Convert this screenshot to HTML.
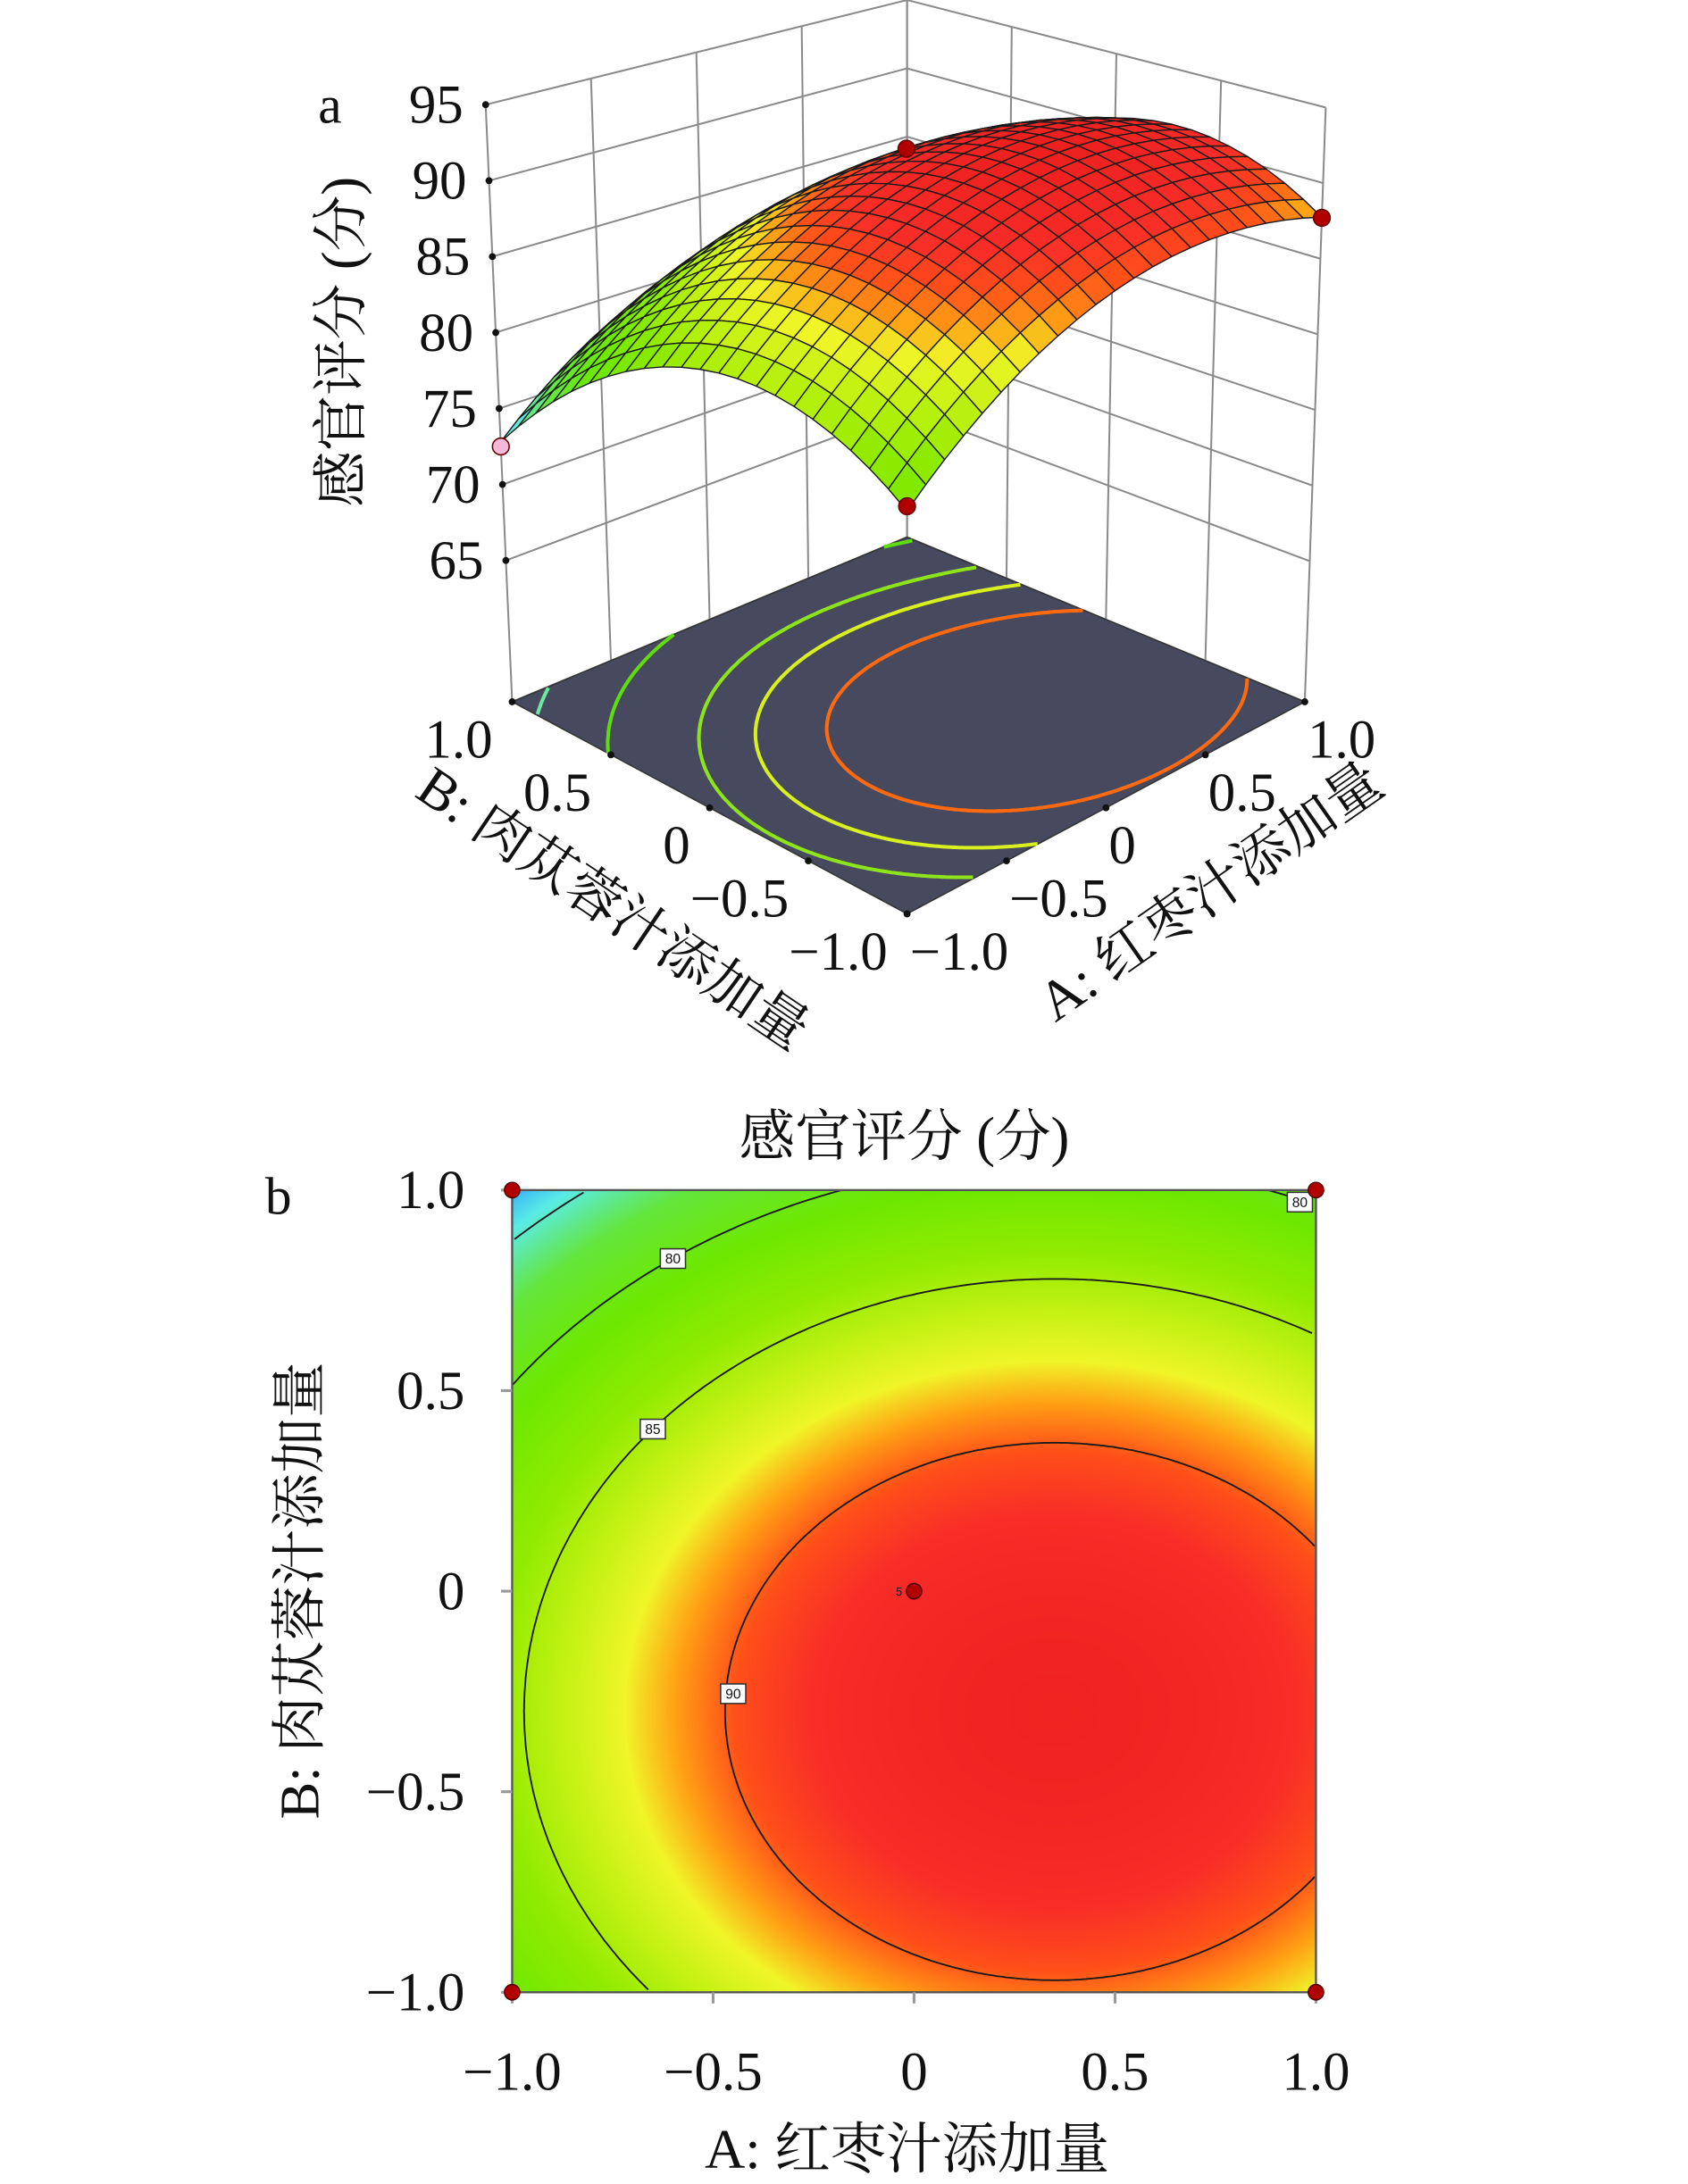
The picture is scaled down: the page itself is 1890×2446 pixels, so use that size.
<!DOCTYPE html>
<html><head><meta charset="utf-8">
<style>
html,body{margin:0;padding:0;background:#fff;}
#wrap{position:relative;width:1890px;height:2446px;overflow:hidden;}
#heat{position:absolute;left:573.4px;top:1332.8px;width:900px;height:898.4px;}
#svg{position:absolute;left:0;top:0;}
text{font-family:"Liberation Serif","Noto Serif CJK SC","Noto Sans CJK SC",serif;fill:#111;}
</style></head>
<body>
<div id="wrap">
<canvas id="heat" width="900" height="898"></canvas>
<svg id="svg" width="1890" height="2446" viewBox="0 0 1209.6 1565.4" xmlns="http://www.w3.org/2000/svg">
<g id="g3d"></g>
<g id="g2d"></g>
<text x="228" y="88" font-size="38">a</text>
<text x="190" y="870" font-size="38">b</text>
<text transform="translate(258,245) rotate(-90)" text-anchor="middle" font-size="40">感官评分 (分)</text>
<text transform="translate(432,662) rotate(34)" text-anchor="middle" font-size="40">B: 肉苁蓉汁添加量</text>
<text transform="translate(875,650) rotate(-35)" text-anchor="middle" font-size="40">A: 红枣汁添加量</text>
<text x="648" y="828" text-anchor="middle" font-size="40">感官评分 (分)</text>
<text x="650" y="1554" text-anchor="middle" font-size="40">A: 红枣汁添加量</text>
<text transform="translate(228,1140) rotate(-90)" text-anchor="middle" font-size="40">B: 肉苁蓉汁添加量</text>
</svg>
</div>
<script>
// ---- data ----
const modelTerms = [91.94, 3.27, -4.20, -4.67, -7.0, 0]; // b0, A, B, AA, BB, AB
const factorTicks = [-1, -0.5, 0, 0.5, 1];
const factorTickLabels = ["\u22121.0", "\u22120.5", "0", "0.5", "1.0"];
const zTicks = [65, 70, 75, 80, 85, 90, 95];
const floorContourLevels = [75, 80, 85, 87.5, 90];
const floorContourColors = ["#6ee8a0", "#5fdc10", "#8ee41a", "#d8f020", "#ff6a10"];
const contourLevels2d = [75, 80, 85, 90];
const designA = [-1, 1, -1, 1, 0];
const designB = [-1, -1, 1, 1, 0];
const designY = [81.5, 87.7, 72.5, 79.3, 93.5];

const NS = "http://www.w3.org/2000/svg";
function mk(tag, attrs, parent){const e=document.createElementNS(NS,tag);for(const k in attrs)e.setAttribute(k,attrs[k]);parent.appendChild(e);return e;}
function model(a,b){const t=modelTerms;return t[0]+t[1]*a+t[2]*b+t[3]*a*a+t[4]*b*b+t[5]*a*b;}
const stops=[[72,[40,150,255]],[74.5,[90,235,230]],[77.5,[100,230,60]],[81,[110,232,0]],[84,[145,235,0]],[86.3,[200,242,20]],[87.8,[240,245,40]],[89,[255,160,20]],[90.2,[255,80,25]],[91.5,[248,45,40]],[94,[235,30,30]]];
function col(v){if(v<=stops[0][0])return stops[0][1];for(let i=1;i<stops.length;i++){if(v<=stops[i][0]){const f=(v-stops[i-1][0])/(stops[i][0]-stops[i-1][0]);return stops[i-1][1].map((c,j)=>Math.round(c+(stops[i][1][j]-c)*f));}}return stops[stops.length-1][1];}
function rgb(c){return "rgb("+c[0]+","+c[1]+","+c[2]+")";}

// ---- 3D projection ----
const zFloor=55.7, zTop=95;
const fF=[650,655], fR=[935,503], fL=[367,503], fK=[650,385];
const tF=[650,210], tR=[950,77], tL=[348,75], tK=[650,0];
function bil(P,a,b){const u=(a+1)/2,v=(b+1)/2;return [P[0][0]*(1-u)*(1-v)+P[1][0]*u*(1-v)+P[2][0]*(1-u)*v+P[3][0]*u*v,P[0][1]*(1-u)*(1-v)+P[1][1]*u*(1-v)+P[2][1]*(1-u)*v+P[3][1]*u*v];}
function proj(a,b,z){const f=bil([fF,fR,fL,fK],a,b),t=bil([tF,tR,tL,tK],a,b);const s=(z-zFloor)/(zTop-zFloor);return [f[0]+(t[0]-f[0])*s,f[1]+(t[1]-f[1])*s];}
const g3=document.getElementById("g3d");
function line3(p,q,attrs,name){const P=proj(...p),Q=proj(...q);const e=mk("line",Object.assign({x1:P[0],y1:P[1],x2:Q[0],y2:Q[1]},attrs),g3);return e;}
const wallSt={stroke:"#8a8a8a","stroke-width":1.3};
factorTicks.forEach(v=>{
  line3([v,1,zFloor],[v,1,zTop],wallSt,"wall-grid-vertical");
  line3([1,v,zFloor],[1,v,zTop],wallSt,"wall-grid-vertical");
});
line3([-1,1,zFloor],[1,1,zFloor],wallSt,"wall-base");
line3([1,1,zFloor],[1,-1,zFloor],wallSt,"wall-base");
zTicks.forEach(z=>{
  line3([-1,1,z],[1,1,z],wallSt,"wall-grid-horizontal");
  line3([1,1,z],[1,-1,z],wallSt,"wall-grid-horizontal");
});
zTicks.forEach(z=>{
  const p=proj(-1,1,z);
  const d=mk("circle",{cx:p[0],cy:p[1],r:2.5,fill:"#111"},g3);
  
  const t=mk("text",{x:p[0]-16,y:p[1]+13,"text-anchor":"end","font-size":39},g3);
  
  t.textContent=String(z);
});
const fl=mk("polygon",{points:[fF,fR,fK,fL].map(p=>p.join(",")).join(" "),fill:"#474a5e",stroke:"#333","stroke-width":1},g3);

const cA=-modelTerms[1]/(2*modelTerms[3]), cB=-modelTerms[2]/(2*modelTerms[4]), ymax=model(cA,cB);
function ellipsePts(level,projFn){
  const rA=Math.sqrt((ymax-level)/(-modelTerms[3])),rB=Math.sqrt((ymax-level)/(-modelTerms[4]));const segs=[];let cur=[];
  for(let i=0;i<=720;i++){const th=i/720*2*Math.PI;const a=cA+rA*Math.cos(th),b=cB+rB*Math.sin(th);
    if(a>=-1&&a<=1&&b>=-1&&b<=1){cur.push(projFn(a,b));}else{if(cur.length>1)segs.push(cur);cur=[];}}
  if(cur.length>1)segs.push(cur);
  if(segs.length>1){const f=segs[0],l=segs[segs.length-1];const a0=f[0],b0=l[l.length-1];if(Math.hypot(a0[0]-b0[0],a0[1]-b0[1])<3){segs[0]=l.concat(f);segs.pop();}}
  return segs;}
floorContourLevels.forEach((lv,i)=>{
  ellipsePts(lv,(a,b)=>proj(a,b,zFloor)).forEach(s=>{
    const e=mk("polyline",{points:s.map(p=>p[0].toFixed(1)+","+p[1].toFixed(1)).join(" "),fill:"none",stroke:floorContourColors[i],"stroke-width":2.6},g3);
    
  });
});
factorTicks.forEach((v,i)=>{
  const pb=proj(-1,v,zFloor);
  const d1=mk("circle",{cx:pb[0],cy:pb[1],r:2.5,fill:"#111"},g3);
  const t1=mk("text",{x:pb[0]-14,y:pb[1]+40,"text-anchor":"end","font-size":39},g3);
  t1.textContent=factorTickLabels[i];
  const pa=proj(v,-1,zFloor);
  const d2=mk("circle",{cx:pa[0],cy:pa[1],r:2.5,fill:"#111"},g3);
  const t2=mk("text",{x:pa[0]+2,y:pa[1]+40,"text-anchor":"start","font-size":39},g3);
  t2.textContent=factorTickLabels[i];
});
const N=22;const quads=[];
for(let i=0;i<N;i++)for(let j=0;j<N;j++){const a0=-1+2*i/N,a1=-1+2*(i+1)/N,b0=-1+2*j/N,b1=-1+2*(j+1)/N;quads.push([a0,a1,b0,b1]);}
quads.sort((p,q)=>(q[0]+q[1]+q[2]+q[3])-(p[0]+p[1]+p[2]+p[3]));
// far design point (hidden behind surface) drawn before surface
designA.forEach((a,i)=>{
  if(a+designB[i]<1.5)return;
  const p=proj(a,designB[i],designY[i]);
  const e=mk("circle",{cx:p[0],cy:p[1],r:6,fill:"#b00000",stroke:"#600","stroke-width":1},g3);
  
});
quads.forEach(q=>{
  const pts=[[q[0],q[2]],[q[1],q[2]],[q[1],q[3]],[q[0],q[3]]].map(p=>proj(p[0],p[1],model(p[0],p[1])));
  const v=model((q[0]+q[1])/2,(q[2]+q[3])/2);
  const e=mk("polygon",{points:pts.map(p=>p[0].toFixed(1)+","+p[1].toFixed(1)).join(" "),fill:rgb(col(v+0.5)),stroke:"#1a1a1a","stroke-width":0.9,"stroke-linejoin":"round"},g3);
  
});
designA.forEach((a,i)=>{
  if(a+designB[i]>=1.5)return;
  const p=proj(a,designB[i],designY[i]);
  const e=mk("circle",{cx:p[0],cy:p[1],r:6,fill:designY[i]<75?"#f6b8d8":"#b00000",stroke:"#600","stroke-width":1},g3);
  
});

// ---- 2D contour ----
const X0=367,X1=943,Y0=1428,Y1=853;
function sx(a){return X0+(a+1)/2*(X1-X0);}
function sy(b){return Y0-(b+1)/2*(Y0-Y1);}
const cv=document.getElementById("heat");const ctx=cv.getContext("2d");const W=cv.width,H=cv.height;
const img=ctx.createImageData(W,H);
for(let y=0;y<H;y++)for(let x=0;x<W;x++){const a=-1+2*x/(W-1),b=1-2*y/(H-1);const c=col(model(a,b));const k=(y*W+x)*4;img.data[k]=c[0];img.data[k+1]=c[1];img.data[k+2]=c[2];img.data[k+3]=255;}
ctx.putImageData(img,0,0);
const g2=document.getElementById("g2d");
contourLevels2d.forEach(lv=>{
  ellipsePts(lv,(a,b)=>[sx(a),sy(b)]).forEach(s=>{
    const e=mk("polyline",{points:s.map(p=>p[0].toFixed(1)+","+p[1].toFixed(1)).join(" "),fill:"none",stroke:"#1a1a1a","stroke-width":1.2},g2);
    
  });
});
const fr=mk("rect",{x:X0,y:Y1,width:X1-X0,height:Y0-Y1,fill:"none",stroke:"#555","stroke-width":1.5},g2);

const labelLevels=[80,80,85,90], labelA=[-0.6,0.96,-0.65,-0.45], labelSide=[1,1,1,0.3];
labelLevels.forEach((lv,i)=>{
  const rA=Math.sqrt((ymax-lv)/(-modelTerms[3])),rB=Math.sqrt((ymax-lv)/(-modelTerms[4]));
  const da=(labelA[i]-cA)/rA;const b=Math.min(0.97,cB+rB*Math.sqrt(Math.max(0,1-da*da))*labelSide[i]);
  const x=sx(labelA[i]),y=sy(b);
  const bx=mk("rect",{x:x-9,y:y-7,width:18,height:14,fill:"#fff",stroke:"#333","stroke-width":1},g2);
  
  const t=mk("text",{x:x,y:y+3.5,"text-anchor":"middle","font-size":10,style:"font-family:'Liberation Sans',sans-serif"},g2);
  t.textContent=String(lv);
});
factorTicks.forEach((v,i)=>{
  const tx=mk("line",{x1:sx(v),y1:Y0,x2:sx(v),y2:Y0+8,stroke:"#999","stroke-width":2},g2);
  
  const ty=mk("line",{x1:X0-8,y1:sy(v),x2:X0,y2:sy(v),stroke:"#999","stroke-width":2},g2);
  
  const lx=mk("text",{x:sx(v),y:Y0+70,"text-anchor":"middle","font-size":39},g2);
  lx.textContent=factorTickLabels[i];
  const ly=mk("text",{x:333,y:sy(v)+13,"text-anchor":"end","font-size":39},g2);
  ly.textContent=factorTickLabels[i];
});
designA.forEach((a,i)=>{
  const e=mk("circle",{cx:sx(a),cy:sy(designB[i]),r:5.5,fill:"#b00000",stroke:"#500","stroke-width":1},g2);
  
});
const c5=mk("text",{x:sx(0)-13,y:sy(0)+3,"font-size":8,style:"font-family:'Liberation Sans',sans-serif"},g2);
c5.textContent="5";
</script>
</body></html>
